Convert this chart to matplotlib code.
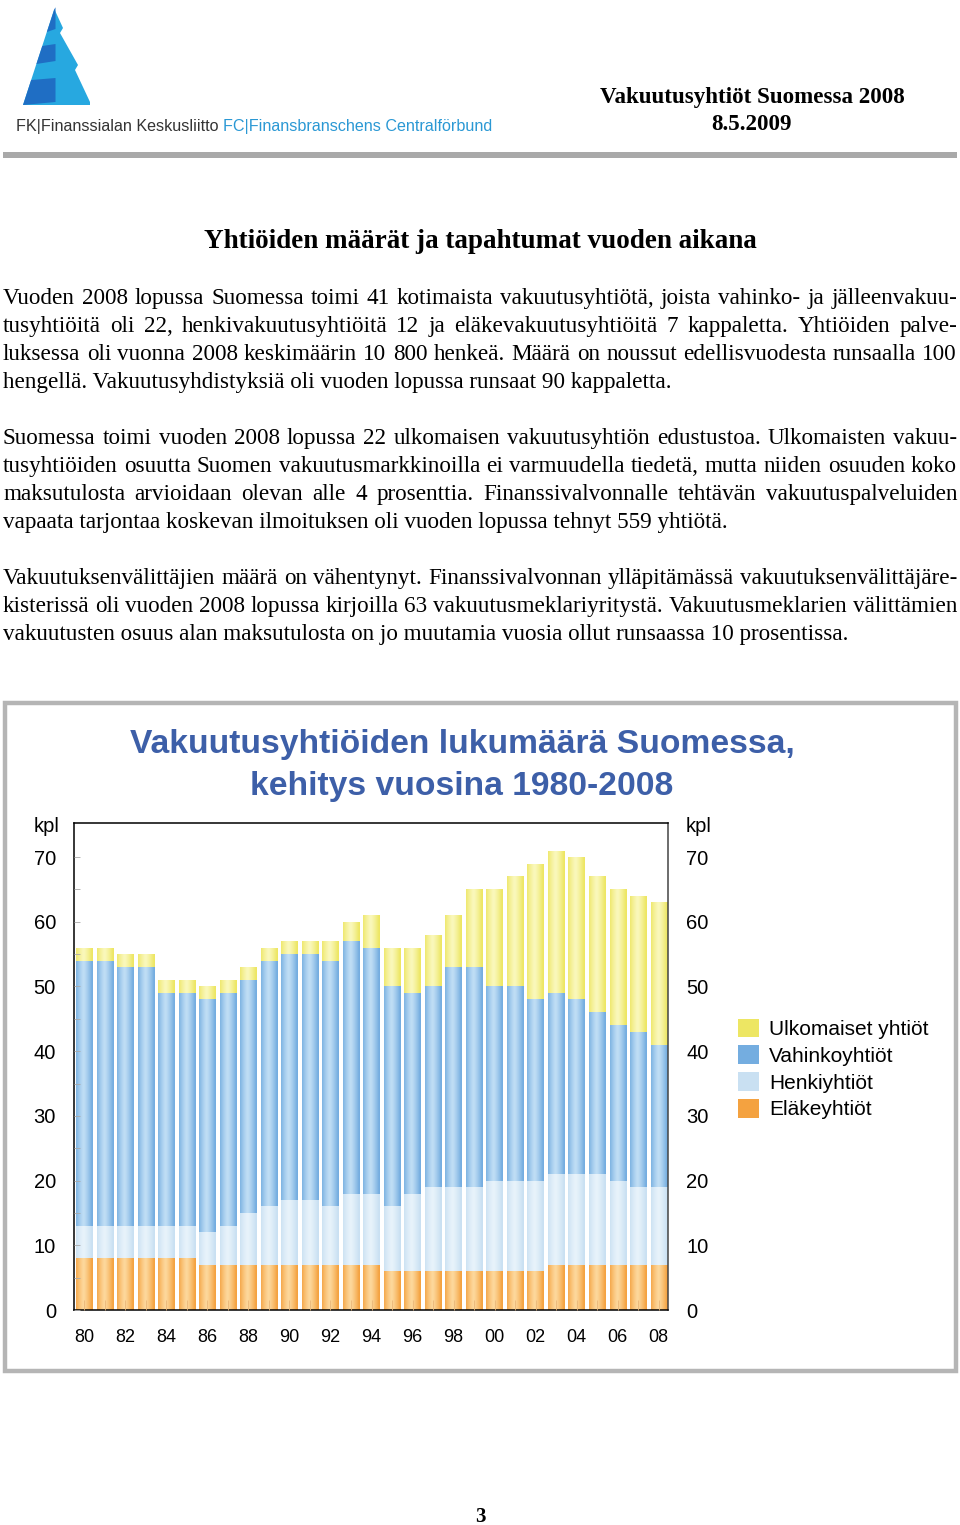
import numpy as np
import matplotlib
matplotlib.use("Agg")
import matplotlib.pyplot as plt
from matplotlib import patches
from matplotlib.colors import LinearSegmentedColormap

W, H = 960, 1525

# ---- data (kpl, 1980-2008) ----
years = list(range(1980, 2009))
elake = [8, 8, 8, 8, 8, 8, 7, 7, 7, 7, 7, 7, 7, 7, 7, 6, 6, 6, 6, 6, 6, 6, 6, 7, 7, 7, 7, 7, 7]
henki = [5, 5, 5, 5, 5, 5, 5, 6, 8, 9, 10, 10, 9, 11, 11, 10, 12, 13, 13, 13, 14, 14, 14, 14, 14, 14, 13, 12, 12]
vahinko = [41, 41, 40, 40, 36, 36, 36, 36, 36, 38, 38, 38, 38, 39, 38, 34, 31, 31, 34, 34, 30, 30, 28, 28, 27, 25, 24, 24, 22]
ulkomaiset = [2, 2, 2, 2, 2, 2, 2, 2, 2, 2, 2, 2, 3, 3, 5, 6, 7, 8, 8, 12, 15, 17, 21, 22, 22, 21, 21, 21, 22]
tick_labels = [str(y)[2:] if y % 2 == 0 else "" for y in years]

series = [
    ("Eläkeyhtiöt", elake, "#f4a240", "#fdd89c"),
    ("Henkiyhtiöt", henki, "#c9e0f2", "#e8f3fb"),
    ("Vahinkoyhtiöt", vahinko, "#74ade0", "#c0def5"),
    ("Ulkomaiset yhtiöt", ulkomaiset, "#ede663", "#faf8bc"),
]

para1 = [
    "Vuoden 2008 lopussa Suomessa toimi 41 kotimaista vakuutusyhtiötä, joista vahinko- ja jälleenvakuu-",
    "tusyhtiöitä oli 22, henkivakuutusyhtiöitä 12 ja eläkevakuutusyhtiöitä 7 kappaletta. Yhtiöiden palve-",
    "luksessa oli vuonna 2008 keskimäärin 10 800 henkeä. Määrä on noussut edellisvuodesta runsaalla 100",
    "hengellä. Vakuutusyhdistyksiä oli vuoden lopussa runsaat 90 kappaletta.",
]
para2 = [
    "Suomessa toimi vuoden 2008 lopussa 22 ulkomaisen vakuutusyhtiön edustustoa. Ulkomaisten vakuu-",
    "tusyhtiöiden osuutta Suomen vakuutusmarkkinoilla ei varmuudella tiedetä, mutta niiden osuuden koko",
    "maksutulosta arvioidaan olevan alle 4 prosenttia. Finanssivalvonnalle tehtävän vakuutuspalveluiden",
    "vapaata tarjontaa koskevan ilmoituksen oli vuoden lopussa tehnyt 559 yhtiötä.",
]
para3 = [
    "Vakuutuksenvälittäjien määrä on vähentynyt. Finanssivalvonnan ylläpitämässä vakuutuksenvälittäjäre-",
    "kisterissä oli vuoden 2008 lopussa kirjoilla 63 vakuutusmeklariyritystä. Vakuutusmeklarien välittämien",
    "vakuutusten osuus alan maksutulosta on jo muutamia vuosia ollut runsaassa 10 prosentissa.",
]

fig = plt.figure(figsize=(W / 100, H / 100), dpi=100)
renderer = fig.canvas.get_renderer()


def fx(x):
    return x / W


def fy(y):
    return 1 - y / H


# ---- header ----
cyan, dark = "#27a8e0", "#1f6ec4"


def xl(y):
    return 54.3 - 0.327 * (y - 9.3)


outline = [(54.3, 9), (63, 28), (60, 33), (78, 65), (75, 70), (90, 102), (90, 105), (23, 105)]
fig.patches.append(patches.Polygon([(fx(x), fy(y)) for x, y in outline], closed=True,
                                   transform=fig.transFigure, color=cyan, lw=0))
for y0, y1 in [(9.3, 32), (46, 64), (80, 105)]:
    pts = [(xl(y0), y0), (55.5, y0 - 2), (55.5, y1 - 3), (xl(y1), y1)]
    fig.patches.append(patches.Polygon([(fx(x), fy(y)) for x, y in pts], closed=True,
                                       transform=fig.transFigure, color=dark, lw=0))

t1 = fig.text(fx(16), fy(126), "FK|Finanssialan Keskusliitto ", fontsize=11.6,
              family="Liberation Sans", color="#333333", va="center")
w1 = t1.get_window_extent(renderer).width
fig.text(fx(16 + w1), fy(126), "FC|Finansbranschens Centralförbund", fontsize=11.6,
         family="Liberation Sans", color="#2a98d4", va="center")

fig.text(fx(752), fy(97), "Vakuutusyhtiöt Suomessa 2008", fontsize=16.6, weight="bold",
         family="Liberation Serif", ha="center", va="center")
fig.text(fx(752), fy(125), "8.5.2009", fontsize=16.6, weight="bold",
         family="Liberation Serif", ha="center", va="center")
fig.patches.append(patches.Rectangle((fx(3), fy(158)), fx(954), 6 / H, transform=fig.transFigure,
                                     color="#a9a9a9", lw=0))

fig.text(fx(480), fy(242), "Yhtiöiden määrät ja tapahtumat vuoden aikana", fontsize=19.5,
         weight="bold", family="Liberation Serif", ha="center", va="center")


# ---- justified body text ----
def text_line(line, base_y, last=False, x0=3, x1=957, size=16.7):
    if last:
        fig.text(fx(x0), fy(base_y), line, fontsize=size, family="Liberation Serif", va="baseline")
        return
    words = line.split(" ")
    items = [fig.text(0, fy(base_y), w, fontsize=size, family="Liberation Serif", va="baseline")
             for w in words]
    widths = [t.get_window_extent(renderer).width for t in items]
    gap = (x1 - x0 - sum(widths)) / (len(words) - 1)
    x = x0
    for t, w in zip(items, widths):
        t.set_x(fx(x))
        x += w + gap


for para, start in [(para1, 304), (para2, 444), (para3, 584)]:
    for i, line in enumerate(para):
        text_line(line, start + 28 * i, last=(i == len(para) - 1))

# ---- chart frame ----
fig.patches.append(patches.Rectangle((fx(4.5), fy(1370.5)), fx(951), 667 / H,
                                     transform=fig.transFigure, fill=False,
                                     edgecolor="#b5b5b5", lw=3.2))
fig.text(fx(462), fy(745), "Vakuutusyhtiöiden lukumäärä Suomessa,", fontsize=24.2, weight="bold",
         family="Liberation Sans", color="#3d5fa8", ha="center", va="center")
fig.text(fx(462), fy(787), "kehitys vuosina 1980-2008", fontsize=24.2, weight="bold",
         family="Liberation Sans", color="#3d5fa8", ha="center", va="center")
fig.text(fx(34), fy(826), "kpl", fontsize=14.5, family="Liberation Sans", va="center")
fig.text(fx(686), fy(826), "kpl", fontsize=14.5, family="Liberation Sans", va="center")

# ---- stacked bars ----
ax = fig.add_axes([74 / W, 215 / H, 594 / W, 487 / H])
x = np.arange(len(years))
bottom = np.zeros(len(years))
grad = 1 - np.abs(np.linspace(-1, 1, 64) + 0.1) ** 1.3
grad = np.clip(grad, 0, 1)[None, :]
handles = []
for name, vals, edge, light in series:
    bars = ax.bar(x, vals, width=0.8, bottom=bottom, color=edge, lw=0, label=name, zorder=1)
    cmap = LinearSegmentedColormap.from_list(name, [edge, light])
    for p in bars.patches:
        bx, by = p.get_x(), p.get_y()
        im = ax.imshow(grad, extent=[bx, bx + p.get_width(), by, by + p.get_height()],
                       cmap=cmap, vmin=0, vmax=1, aspect="auto", zorder=1.5)
        im.set_clip_path(p)
    handles.append(bars)
    bottom += np.array(vals)

ax.set_xlim(-0.5, 28.45)
ax.set_ylim(0, 75.26)
ax.set_xticks(x)
ax.set_xticklabels(tick_labels, fontsize=13, family="Liberation Sans")
ax.tick_params(axis="x", direction="in", length=7, width=0.6, color="#e9b77a", pad=14)
ax.set_yticks(range(0, 71, 10))
ax.set_yticks(range(5, 71, 10), minor=True)
ax.tick_params(axis="y", which="both", direction="in", length=4, width=0.6, color="#aaaaaa",
               labelsize=14.5, pad=13, right=False, labelright=True)
for lab in ax.get_yticklabels():
    lab.set_family("Liberation Sans")
for s in ax.spines.values():
    s.set_linewidth(1.1)
ax.spines["right"].set_color("#444444")
ax.set_axisbelow(False)

fig.legend(handles[::-1], [s[0] for s in series][::-1], loc="upper left",
           bbox_to_anchor=(fx(719), fy(1000)), frameon=False, handlelength=1.0,
           handleheight=1.0, handletextpad=0.5, labelspacing=0.3,
           prop={"family": "Liberation Sans", "size": 15})

fig.text(fx(480), fy(1517), "3", fontsize=15, weight="bold", family="Liberation Serif",
         ha="center", va="center")

fig.savefig("out.png", dpi=100)
